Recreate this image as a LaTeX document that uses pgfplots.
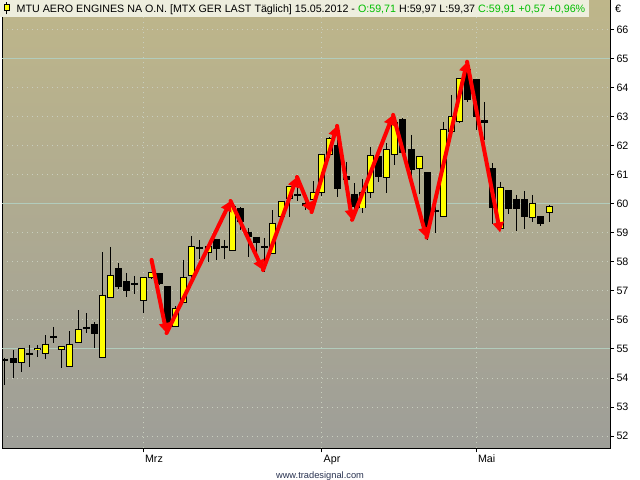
\documentclass[border=0pt]{standalone}
\usepackage{fontspec}
\setmainfont{Liberation Sans}
\usepackage{pgfplots}
\pgfplotsset{compat=1.18}
\usepackage{pgfplotstable}
\usetikzlibrary{arrows.meta}

\definecolor{bgtop}{RGB}{190,182,138}
\definecolor{bgbot}{RGB}{158,158,152}
\definecolor{gridsolid}{RGB}{178,204,188}
\definecolor{griddot}{RGB}{200,206,190}
\definecolor{candleyellow}{RGB}{255,255,0}
\definecolor{hdrbg}{RGB}{238,238,222}
\definecolor{hdrgreen}{RGB}{0,190,0}
\definecolor{tsblue}{RGB}{40,50,80}

% rising candles (yellow): O < C
\pgfplotstableread{
i  O     H     L     C
2  54.55 55.03 54.20 55.03
4  54.97 55.14 54.72 55.03
5  54.86 55.48 54.66 55.17
7  54.97 55.07 54.34 55.07
8  54.41 55.62 54.41 55.17
9  55.21 56.34 55.21 55.66
12 54.72 58.34 54.69 56.86
13 56.79 58.52 56.79 57.55
17 56.66 57.45 56.24 57.45
18 57.48 57.66 57.40 57.62
21 55.76 56.48 55.76 56.38
22 56.59 58.07 56.59 57.48
23 57.55 58.90 57.38 58.52
25 58.31 58.59 58.00 58.52
28 58.41 60.07 58.41 59.90
33 58.28 59.79 58.28 59.31
34 59.55 60.10 59.50 60.10
35 60.20 60.59 59.55 60.59
38 60.14 60.79 60.10 60.41
39 60.41 61.72 60.28 61.72
40 61.69 62.30 61.60 62.24
44 59.86 60.86 59.70 60.41
45 60.41 61.97 60.21 61.66
47 60.90 62.10 60.38 61.86
48 61.72 63.00 61.34 62.79
51 61.21 61.62 60.35 61.62
54 59.55 62.83 59.55 62.55
55 62.48 63.76 62.40 63.00
56 62.83 64.34 62.80 64.34
61 59.17 60.76 59.17 60.55
65 59.52 60.31 59.38 60.03
67 59.71 59.97 59.37 59.91
}\up

% falling candles (black) and dojis: O > C
\pgfplotstableread{
i  O     H     L     C
0  54.65 54.70 53.76 54.59
1  54.66 54.97 54.00 54.52
3  54.86 55.14 54.38 54.80
6  55.44 55.76 55.21 55.38
10 55.75 56.24 55.55 55.69
11 55.83 55.93 55.03 55.55
14 57.76 57.97 57.07 57.14
15 57.31 57.62 56.79 57.00
16 57.27 57.52 56.90 57.21
19 57.59 57.62 57.20 57.24
20 57.14 57.14 55.70 55.76
24 58.51 58.76 58.10 58.45
26 58.79 58.79 58.07 58.48
27 58.55 58.76 58.10 58.49
29 59.83 59.90 59.10 59.38
30 59.03 59.17 58.17 58.86
31 58.86 58.86 58.28 58.66
32 58.55 58.83 57.66 58.49
36 60.34 60.59 60.10 60.28
37 60.03 60.10 59.80 59.93
41 62.03 62.30 60.24 60.52
42 60.93 61.45 60.30 60.83
43 60.31 60.72 59.60 59.90
46 61.62 61.62 60.76 60.93
49 62.90 62.97 61.70 61.76
50 61.86 62.38 60.52 61.17
52 61.07 61.07 58.76 59.20
53 59.79 60.31 59.00 59.73
57 64.62 64.86 63.50 63.59
58 64.28 64.28 62.55 63.03
59 62.86 63.52 62.20 62.80
60 61.21 61.41 59.30 59.86
62 60.45 60.45 59.66 59.83
63 60.17 60.31 59.07 59.83
64 60.14 60.45 59.14 59.55
66 59.55 59.55 59.24 59.34
}\down

\begin{document}
\begin{tikzpicture}[x=1bp,y=1bp]
\useasboundingbox (0,0) rectangle (640,480);
\begin{axis}[
  at={(2bp,31.5bp)}, anchor=south west,
  scale only axis, width=608bp, height=448.5bp,
  xmin=-0.365, xmax=74.5, ymin=51.57, ymax=67.03,
  axis background/.style={shade, top color=bgtop, bottom color=bgbot},
  axis line style={black, line width=1bp},
  xtick={17,39,58}, xticklabels={Mrz,Apr,Mai},
  ytick={52,53,...,66},
  xtick pos=bottom, ytick pos=right, yticklabel pos=right,
  tick align=outside, major tick length=4bp,
  tick style={black, line width=1bp},
  grid=major,
  major grid style={griddot, line width=1bp, dash pattern=on 1bp off 4bp},
  extra y ticks={55,60,65}, extra y tick labels={},
  extra y tick style={major tick length=0pt, grid=major, major grid style={gridsolid, line width=1bp, solid}},
  tick label style={font=\fontsize{10.7bp}{12bp}\selectfont},
  /pgf/number format/assume math mode=true,
  xticklabel style={anchor=north west, xshift=-1.5bp, yshift=1bp},
  yticklabel style={anchor=west, xshift=-1bp},
  clip=true,
]
% wicks
\addplot[draw=none, mark=none, forget plot, error bars/.cd, y dir=minus, y explicit, error mark=none,
  error bar style={draw=black, line width=1bp}]
  table[x=i, y=H, y error minus expr=\thisrow{H}-\thisrow{L}] {\up};
\addplot[draw=none, mark=none, forget plot, error bars/.cd, y dir=minus, y explicit, error mark=none,
  error bar style={draw=black, line width=1bp}]
  table[x=i, y=H, y error minus expr=\thisrow{H}-\thisrow{L}] {\down};
% black bodies
\addplot[draw=none, mark=none, forget plot, error bars/.cd, y dir=minus, y explicit, error mark=none,
  error bar style={draw=black, line width=7bp}]
  table[x=i, y expr=\thisrow{O}+0.017, y error minus expr=\thisrow{O}-\thisrow{C}+0.034] {\down};
% yellow bodies: outline then fill
\addplot[draw=none, mark=none, forget plot, error bars/.cd, y dir=minus, y explicit, error mark=none,
  error bar style={draw=black, line width=7bp}]
  table[x=i, y expr=\thisrow{C}+0.017, y error minus expr=\thisrow{C}-\thisrow{O}+0.034] {\up};
\addplot[draw=none, mark=none, forget plot, error bars/.cd, y dir=minus, y explicit, error mark=none,
  error bar style={draw=candleyellow, line width=5bp}]
  table[x=i, y expr=\thisrow{C}-0.017, y error minus expr={max(\thisrow{C}-\thisrow{O}-0.034,0.001)}] {\up};
% red zigzag arrows
\pgfplotsset{zz/.style={red, line width=4bp, line cap=round, -{Triangle[length=10bp,width=11bp]}}}
\addplot[zz] coordinates {(18.05,58.07) (19.90,55.55)};
\addplot[zz] coordinates {(19.90,55.55) (27.78,60.10)};
\addplot[zz] coordinates {(27.78,60.10) (31.78,57.72)};
\addplot[zz] coordinates {(31.78,57.72) (35.96,60.93)};
\addplot[zz] coordinates {(35.96,60.93) (37.75,59.72)};
\addplot[zz] coordinates {(37.75,59.72) (40.89,62.69)};
\addplot[zz] coordinates {(40.89,62.69) (42.74,59.45)};
\addplot[zz] coordinates {(42.74,59.45) (47.79,63.07)};
\addplot[zz] coordinates {(47.79,63.07) (51.91,58.84)};
\addplot[zz] coordinates {(51.91,58.84) (56.90,64.90)};
\addplot[zz] coordinates {(56.90,64.90) (60.97,59.02)};
\end{axis}
% header box
\fill[hdrbg] (0,463) rectangle (589,480);
\draw[black, line width=1bp] (6.5,465.5) -- (6.5,478);
\filldraw[fill=candleyellow, draw=black, line width=1bp] (4,469) rectangle (9,475);
\node[anchor=base west, inner sep=0pt, font=\fontsize{10.7bp}{12bp}\selectfont] at (16.5,467.5)
  {MTU AERO ENGINES NA O.N. [MTX GER LAST Täglich] 15.05.2012 - \textcolor{hdrgreen}{O:59,71} H:59,97 L:59,37 \textcolor{hdrgreen}{C:59,91 +0,57 +0,96\%}};
\node[anchor=center, inner sep=0pt, font=\fontsize{10.7bp}{12bp}\selectfont] at (618,471) {€};
\node[anchor=center, inner sep=0pt, text=tsblue, font=\fontsize{9.3bp}{11bp}\selectfont] at (320,4) {www.tradesignal.com};
\end{tikzpicture}
\end{document}
